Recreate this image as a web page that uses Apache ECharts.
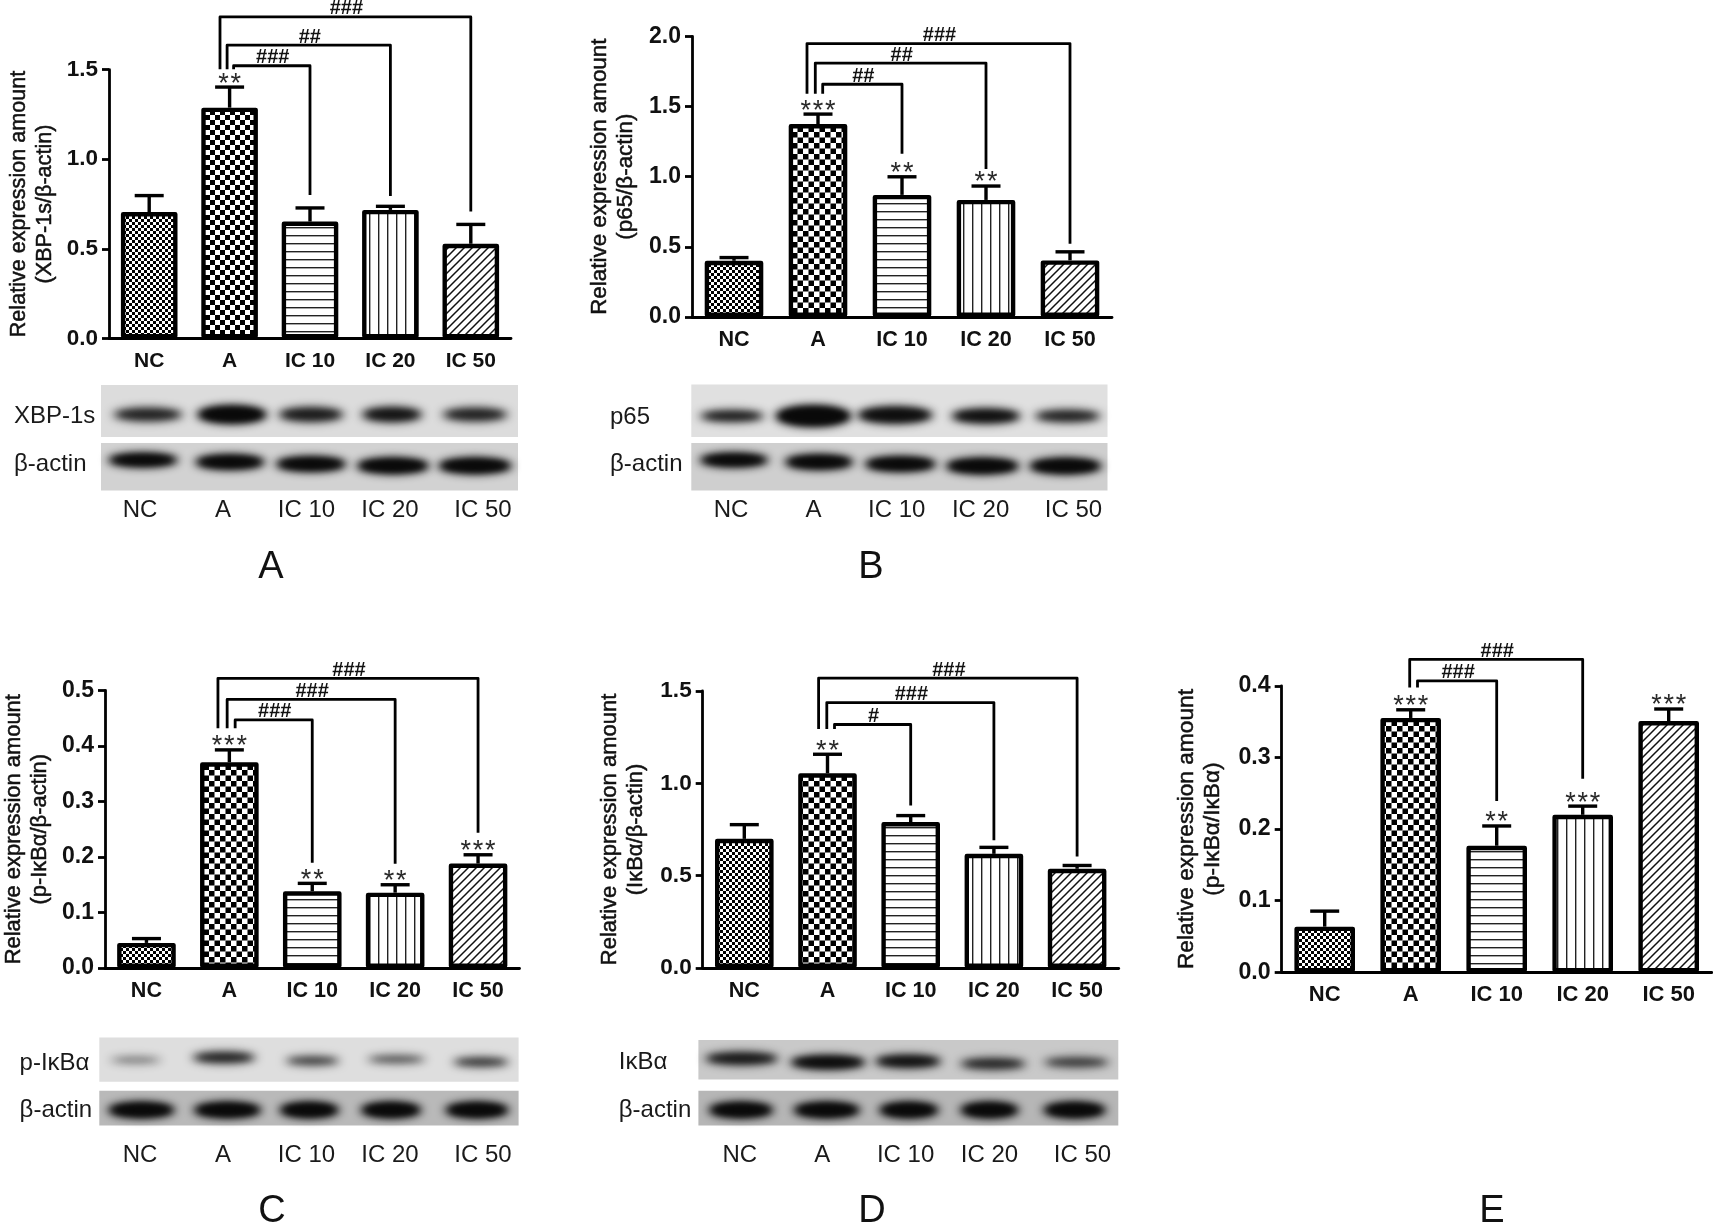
<!DOCTYPE html>
<html>
<head>
<meta charset="utf-8">
<title>Relative expression</title>
<style>
  html, body { margin: 0; padding: 0; background: #fff; }
  #chart { width: 1713px; height: 1227px; }
</style>
<script src="https://cdn.jsdelivr.net/npm/echarts@6/dist/echarts.min.js"></script>
</head>
<body>
<div id="chart"></div>
<script>
const FONT = '"Liberation Sans", Arial, sans-serif'
const categories = ['NC', 'A', 'IC 10', 'IC 20', 'IC 50']

// bar heights, top of the error bars, significance stars
const xbpValues = [0.705, 1.288, 0.652, 0.717, 0.528]
const xbpErrTops = [0.797, 1.403, 0.728, 0.737, 0.636]
const xbpStars = ['', '**', '', '', '']
const p65Values = [0.4, 1.375, 0.87, 0.834, 0.403]
const p65ErrTops = [0.423, 1.446, 0.999, 0.933, 0.464]
const p65Stars = ['', '***', '**', '**', '']
const pIkbValues = [0.0452, 0.3707, 0.1383, 0.1357, 0.1882]
const pIkbErrTops = [0.053, 0.393, 0.1525, 0.15, 0.204]
const pIkbStars = ['', '***', '**', '**', '***']
const ikbValues = [0.699, 1.054, 0.79, 0.618, 0.537]
const ikbErrTops = [0.776, 1.157, 0.825, 0.653, 0.555]
const ikbStars = ['', '**', '', '', '']
const ratioValues = [0.0637, 0.3551, 0.1767, 0.2199, 0.3507]
const ratioErrTops = [0.0854, 0.3665, 0.2043, 0.232, 0.3676]
const ratioStars = ['', '***', '**', '***', '***']

// brackets from group A: target category, line level, left leg end, right leg end, label
const xbpBrackets = [
  [4, 1.795, 1.502, 0.7075, '###'],
  [3, 1.637, 1.502, 0.795, '##'],
  [2, 1.522, 1.502, 0.8, '###'],
]
const p65Brackets = [
  [4, 1.949, 1.591, 0.521, '###'],
  [3, 1.81, 1.591, 1.055, '##'],
  [2, 1.659, 1.591, 1.163, '##'],
]
const pIkbBrackets = [
  [4, 0.522, 0.432, 0.2436, '###'],
  [3, 0.484, 0.432, 0.188, '###'],
  [2, 0.447, 0.432, 0.1895, '###'],
]
const ikbBrackets = [
  [4, 1.569, 1.294, 0.604, '###'],
  [3, 1.437, 1.294, 0.691, '###'],
  [2, 1.318, 1.294, 0.88, '#'],
]
const ratioBrackets = [
  [3, 0.4368, 0.3975, 0.2704, '###'],
  [2, 0.407, 0.3975, 0.239, '###'],
]

// band darkness on the blots, 0-1
const xbpBand = [0.6, 1, 0.65, 0.75, 0.6]
const p65Band = [0.65, 1, 0.85, 0.8, 0.6]
const pIkbBand = [0.12, 0.6, 0.4, 0.3, 0.48]
const ikbBand = [0.7, 0.9, 0.8, 0.55, 0.4]
const actinBand = [1, 1, 1, 1, 1]

const panels = [
  { letter: 'A', letterX: 271, left: 109, top: 69.7, width: 402, height: 268.6, max: 1.5, interval: 0.5,
    barOuter: 61, tick: 22.5, cat: 21, title: 21.6, gap: 51, second: '(XBP-1s/β-actin)',
    offsets: [-9.6, -2.5, 4], cell: 5,
    values: xbpValues, errs: xbpErrTops, stars: xbpStars, brackets: xbpBrackets },
  { letter: 'B', letterX: 871, left: 692, top: 36.4, width: 420, height: 280.5, max: 2, interval: 0.5,
    barOuter: 63, tick: 23, cat: 21.6, title: 22.4, gap: 53, second: '(p65/β-actin)',
    offsets: [-11, -2.7, 4.7], cell: 5.5,
    values: p65Values, errs: p65ErrTops, stars: p65Stars, brackets: p65Brackets },
  { letter: 'C', letterX: 272, left: 103.5, top: 690.5, width: 416, height: 277.5, max: 0.5, interval: 0.1,
    barOuter: 63, tick: 23, cat: 21.6, title: 21.9, gap: 52, second: '(p-IκBα/β-actin)',
    offsets: [-11.4, -2.2, 5.8], cell: 5.5,
    values: pIkbValues, errs: pIkbErrTops, stars: pIkbStars, brackets: pIkbBrackets },
  { letter: 'D', letterX: 872, left: 702.7, top: 690.9, width: 416, height: 277.1, max: 1.5, interval: 0.5,
    barOuter: 63, tick: 22.6, cat: 21.6, title: 22, gap: 54, second: '(IκBα/β-actin)',
    offsets: [-8.9, -0.7, 7], cell: 5.5,
    values: ikbValues, errs: ikbErrTops, stars: ikbStars, brackets: ikbBrackets },
  { letter: 'E', letterX: 1492, left: 1281.7, top: 685.8, width: 430, height: 286.5, max: 0.4, interval: 0.1,
    barOuter: 65, tick: 23.2, cat: 22, title: 22.7, gap: 56, second: '(p-IκBα/IκBα)',
    offsets: [-1, 6.8], cell: 5.5,
    values: ratioValues, errs: ratioErrTops, stars: ratioStars, brackets: ratioBrackets },
]

const blots = [
  { x: 101, y: 385, w: 417, h: 52, bg: '#dcdcdc', label: 'XBP-1s', labelX: 14, labelY: 415, density: xbpBand,
    xs: [148, 232, 311, 392, 475], ws: [68, 68, 64, 59, 64], ys: [414.5, 414.5, 414.5, 414.5, 414.5], hs: [13, 17, 14, 14, 13] },
  { x: 101, y: 443, w: 417, h: 47.6, bg: '#d2d2d2', label: 'β-actin', labelX: 14, labelY: 463, density: actinBand,
    xs: [143, 230, 311, 393, 475], ws: [68, 68, 69, 71, 72], ys: [460, 462, 464, 465.7, 465.7], hs: [13, 14, 14, 15, 15] },
  { x: 691.3, y: 384.6, w: 416.2, h: 52.4, bg: '#e0e0e0', label: 'p65', labelX: 610, labelY: 416, density: p65Band,
    xs: [732, 813.4, 895, 986, 1067.6], ws: [63, 74, 74, 68, 65], ys: [416, 416, 415, 416, 416], hs: [11, 20, 16, 14, 12] },
  { x: 691.3, y: 443, w: 416.2, h: 47.6, bg: '#cfcfcf', label: 'β-actin', labelX: 610, labelY: 463.5, density: actinBand,
    xs: [734, 819, 900.4, 982.5, 1065.4], ws: [67, 67, 70, 72, 71], ys: [460, 462, 464, 466, 466], hs: [13, 14, 14, 15, 15] },
  { x: 99.3, y: 1037.6, w: 419.3, h: 44.2, bg: '#dedede', label: 'p-IκBα', labelX: 19.6, labelY: 1062, density: pIkbBand,
    xs: [135.7, 224, 312.5, 396.4, 481], ws: [50, 62, 53, 57, 55], ys: [1060, 1057.4, 1060.8, 1059.3, 1062], hs: [7, 11, 9, 8, 9] },
  { x: 99.3, y: 1090.8, w: 419.3, h: 34.8, bg: '#b9b9b9', label: 'β-actin', labelX: 19.6, labelY: 1109, density: actinBand,
    xs: [141.4, 227.5, 309.3, 391, 477], ws: [65, 66, 58, 59, 62], ys: [1110, 1110, 1110, 1110, 1110], hs: [15, 15, 15, 15, 15] },
  { x: 698.4, y: 1039.9, w: 419.9, h: 39.6, bg: '#c9c9c9', label: 'IκBα', labelX: 618.8, labelY: 1061.5, density: ikbBand,
    xs: [741.7, 828, 908, 993, 1076.5], ws: [72, 74, 65, 65, 65], ys: [1058.6, 1062.3, 1061.2, 1063.8, 1062.3], hs: [12, 13, 12, 11, 10] },
  { x: 698.4, y: 1090.8, w: 419.9, h: 34.8, bg: '#b6b6b6', label: 'β-actin', labelX: 618.8, labelY: 1109, density: actinBand,
    xs: [741, 826.8, 908.9, 989.5, 1074.6], ws: [63, 65, 58, 57, 61], ys: [1110, 1110, 1110, 1110, 1110], hs: [15, 15, 15, 15, 15] },
]

// lane captions below each blot pair
const laneRows = [
  { y: 510, xs: [140, 223, 306.5, 390, 483] },
  { y: 510, xs: [731, 813.4, 896.7, 980.6, 1073.5] },
  { y: 1155.8, xs: [140, 223, 306.5, 390, 483] },
  { y: 1155.8, xs: [739.8, 822.3, 905.6, 989.5, 1082.4] },
]
const letterRowY = [568, 568, 1212, 1212, 1212]
const SHADOW_SHIFT = 4000

function makeCanvas(w, h, draw) {
  const c = document.createElement('canvas')
  c.width = w
  c.height = h
  const ctx = c.getContext('2d')
  ctx.fillStyle = '#fff'
  ctx.fillRect(0, 0, w, h)
  draw(ctx)
  return c
}

function checker(cell) {
  const size = Math.round(cell * 2)
  return makeCanvas(size, size, (ctx) => {
    ctx.fillStyle = '#000'
    ctx.fillRect(0, 0, size / 2, size / 2)
    ctx.fillRect(size / 2, size / 2, size / 2, size / 2)
  })
}

// fill patterns of the five groups
function patterns(cell) {
  return [
    checker(3),
    checker(cell),
    makeCanvas(8, 8, (ctx) => {
      ctx.fillStyle = '#222'
      ctx.fillRect(0, 3, 8, 1.4)
    }),
    makeCanvas(9, 8, (ctx) => {
      ctx.fillStyle = '#222'
      ctx.fillRect(0, 0, 1.4, 8)
    }),
    makeCanvas(8, 8, (ctx) => {
      ctx.strokeStyle = '#111'
      ctx.lineWidth = 1.5
      ctx.beginPath()
      ctx.moveTo(-2, 10)
      ctx.lineTo(10, -2)
      ctx.moveTo(-2, 2)
      ctx.lineTo(2, -2)
      ctx.moveTo(6, 10)
      ctx.lineTo(10, 6)
      ctx.stroke()
    }),
  ]
}

function renderErr(stars) {
  return (params, api) => {
    const i = api.value(0)
    const base = api.coord([i, api.value(1)])
    const top = api.coord([i, api.value(2)])
    const children = [
      { type: 'line', shape: { x1: base[0], y1: base[1], x2: top[0], y2: top[1] }, style: { stroke: '#000', lineWidth: 3.4 } },
      { type: 'line', shape: { x1: top[0] - 14.5, y1: top[1], x2: top[0] + 14.5, y2: top[1] }, style: { stroke: '#000', lineWidth: 3.4 } },
    ]
    const n = stars[i].length
    for (let k = 0; k < n; k++) {
      children.push({
        type: 'text',
        style: { text: '*', x: top[0] + (k - (n - 1) / 2) * 12.3, y: top[1] - 3, align: 'center', verticalAlign: 'middle',
          fill: '#2a2a2a', font: '27px ' + FONT },
      })
    }
    return { type: 'group', children }
  }
}

function renderBracket(offsets) {
  return (params, api) => {
    const i = params.dataIndex
    const to = api.value(0)
    const level = api.coord([to, api.value(1)])
    const leftEnd = api.coord([1, api.value(2)])
    const rightEnd = api.coord([to, api.value(3)])
    const lx = leftEnd[0] + offsets[i]
    return {
      type: 'group',
      children: [
        { type: 'polyline',
          shape: { points: [[lx, leftEnd[1]], [lx, level[1]], [level[0], level[1]], [level[0], rightEnd[1]]] },
          style: { stroke: '#000', lineWidth: 2.8, fill: 'none', lineJoin: 'round' } },
        { type: 'text', style: { text: api.value(4), x: (lx + level[0]) / 2 + 1, y: level[1] - 8, align: 'center', verticalAlign: 'middle',
          fill: '#111', font: 'bold 20px ' + FONT } },
      ],
    }
  }
}

const grid = []
const xAxis = []
const yAxis = []
const series = []
const graphic = []

panels.forEach((p, n) => {
  grid.push({ left: p.left, top: p.top, width: p.width, height: p.height })
  xAxis.push({
    type: 'category', gridIndex: n, data: categories,
    axisLine: { lineStyle: { color: '#000', width: 2.8 } },
    axisTick: { alignWithLabel: true, length: 7, lineStyle: { color: '#000', width: 2.8 } },
    axisLabel: { color: '#111', fontFamily: FONT, fontWeight: 'bold', fontSize: p.cat, margin: 12, interval: 0 },
  })
  yAxis.push({
    type: 'value', gridIndex: n, min: 0, max: p.max, interval: p.interval,
    name: 'Relative expression amount\n' + p.second, nameLocation: 'middle', nameRotate: 90, nameGap: p.gap,
    nameTextStyle: { color: '#111', fontFamily: FONT, fontSize: p.title, lineHeight: 26, textBorderColor: '#111', textBorderWidth: 0.5 },
    axisLine: { show: true, lineStyle: { color: '#000', width: 2.8 } },
    axisTick: { show: true, length: 7, lineStyle: { color: '#000', width: 2.8 } },
    splitLine: { show: false },
    axisLabel: { color: '#111', fontFamily: FONT, fontWeight: 'bold', fontSize: p.tick, margin: 11, formatter: (v) => v.toFixed(1) },
  })
  const fills = patterns(p.cell)
  series.push({
    type: 'bar', xAxisIndex: n, yAxisIndex: n, barWidth: p.barOuter - 4.4, silent: true, z: 3,
    data: p.values.map((v, i) => ({
      value: v,
      itemStyle: { color: { image: fills[i], repeat: 'repeat' }, borderColor: '#000', borderWidth: 4.4, borderJoin: 'round' },
    })),
  })
  series.push({
    type: 'custom', xAxisIndex: n, yAxisIndex: n, silent: true, z: 4, clip: false,
    renderItem: renderErr(p.stars), encode: { x: 0, y: 2 },
    data: p.values.map((v, i) => [i, v, p.errs[i]]),
  })
  series.push({
    type: 'custom', xAxisIndex: n, yAxisIndex: n, silent: true, z: 4, clip: false,
    renderItem: renderBracket(p.offsets), encode: { x: 0, y: 1 },
    dimensions: [{ name: 'to', type: 'number' }, { name: 'level', type: 'number' }, { name: 'left', type: 'number' }, { name: 'right', type: 'number' }, { name: 'hash', type: 'ordinal' }],
    data: p.brackets,
  })
  graphic.push({
    type: 'text', x: p.letterX, y: letterRowY[n],
    style: { text: p.letter, font: '38px ' + FONT, fill: '#111', align: 'center', verticalAlign: 'middle' },
  })
})

blots.forEach((b) => {
  graphic.push({ type: 'rect', shape: { x: b.x, y: b.y, width: b.w, height: b.h }, style: { fill: b.bg }, z: 1 })
  b.xs.forEach((cx, i) => {
    const d = b.density[i]
    const shade = 'rgba(10,10,10,' + Math.min(1, 0.2 + d * 0.8).toFixed(2) + ')'
    // only the blurred shadow is visible, the shape itself sits off the canvas
    graphic.push({
      type: 'ellipse', z: 2,
      shape: { cx: cx - SHADOW_SHIFT, cy: b.ys[i], rx: b.ws[i] / 2 + 2, ry: b.hs[i] / 2 + 1 },
      style: { fill: '#000', shadowColor: shade, shadowBlur: 8, shadowOffsetX: SHADOW_SHIFT },
    })
    // second pass keeps the band core dark
    graphic.push({
      type: 'ellipse', z: 2,
      shape: { cx: cx - SHADOW_SHIFT, cy: b.ys[i], rx: b.ws[i] / 2 - 5, ry: b.hs[i] / 2 - 2 },
      style: { fill: '#000', shadowColor: shade, shadowBlur: 6, shadowOffsetX: SHADOW_SHIFT },
    })
  })
  graphic.push({
    type: 'text', x: b.labelX, y: b.labelY + 1,
    style: { text: b.label, font: '24px ' + FONT, fill: '#1a1a1a', align: 'left', verticalAlign: 'middle' },
  })
})

laneRows.forEach((r) => {
  r.xs.forEach((x, i) => {
    graphic.push({
      type: 'text', x: x, y: r.y,
      style: { text: categories[i], font: '24px ' + FONT, fill: '#1a1a1a', align: 'center', verticalAlign: 'middle' },
    })
  })
})

const chart = echarts.init(document.getElementById('chart'), null, { renderer: 'canvas', devicePixelRatio: 1 })
chart.setOption({
  backgroundColor: '#fff',
  animation: false,
  grid, xAxis, yAxis, series,
  graphic: { elements: graphic },
})
</script>
</body>
</html>
